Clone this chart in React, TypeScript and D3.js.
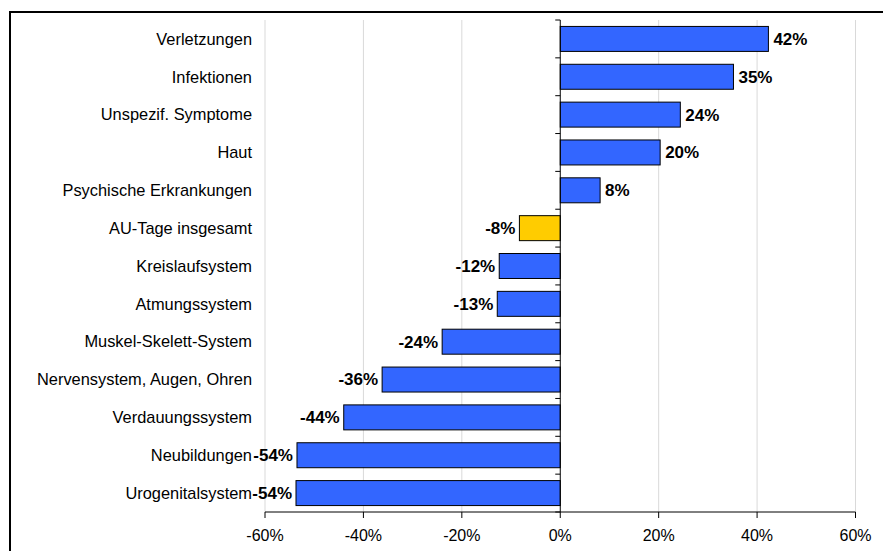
import React from "react";
import * as d3 from "d3";

const categories = [
  "Verletzungen",
  "Infektionen",
  "Unspezif. Symptome",
  "Haut",
  "Psychische Erkrankungen",
  "AU-Tage insgesamt",
  "Kreislaufsystem",
  "Atmungssystem",
  "Muskel-Skelett-System",
  "Nervensystem, Augen, Ohren",
  "Verdauungssystem",
  "Neubildungen",
  "Urogenitalsystem",
];
const values = [42.3, 35.2, 24.4, 20.3, 8.1, -8.3, -12.4, -12.8, -24, -36.2, -44, -53.5, -53.7];
const valueLabels = ["42%", "35%", "24%", "20%", "8%", "-8%", "-12%", "-13%", "-24%", "-36%", "-44%", "-54%", "-54%"];
const highlight = "AU-Tage insgesamt";
const xTicks = [-60, -40, -20, 0, 20, 40, 60];

export default function App() {
  const W = 883, H = 551;
  const left = 265, right = 855.5, top = 20, bottom = 512;
  const x = d3.scaleLinear().domain([-60, 60]).range([left, right]);
  const y = d3.scaleBand<string>().domain(categories).range([top, bottom]).paddingInner(0.34).paddingOuter(0.17);
  const step = y.step();
  const font = "'Liberation Sans', Arial, sans-serif";
  return (
    <svg width={W} height={H} style={{ position: "absolute", left: 0, top: 0 }}>
      <rect x={0} y={0} width={W} height={H} fill="#fff" />
      <rect x={10} y={12} width={W + 20} height={H + 20} fill="none" stroke="#000" strokeWidth={2} />
      {xTicks.filter((t) => t !== 0).map((t) => (
        <line key={"g" + t} x1={x(t)} x2={x(t)} y1={top} y2={bottom} stroke="#d9d9d9" strokeWidth={1} />
      ))}
      {categories.map((c, i) => {
        const v = values[i];
        const x0 = Math.min(x(0), x(v));
        const w = Math.abs(x(v) - x(0));
        const yy = y(c)!;
        const yc = yy + y.bandwidth() / 2;
        return (
          <g key={c}>
            <rect x={x0} y={yy} width={w} height={y.bandwidth()} fill={c === highlight ? "#FFCC00" : "#3366FF"} stroke="#000" strokeWidth={1} />
            <text x={252} y={yc} dy="0.35em" textAnchor="end" fontFamily={font} fontSize={16.4} fill="#000">{c}</text>
            <text
              x={v >= 0 ? x(v) + 5 : x(v) - 4}
              y={yc}
              dy="0.35em"
              textAnchor={v >= 0 ? "start" : "end"}
              fontFamily={font}
              fontSize={17}
              fontWeight="bold"
              fill="#000"
            >
              {valueLabels[i]}
            </text>
          </g>
        );
      })}
      {d3.range(categories.length + 1).map((i) => (
        <line key={"ct" + i} x1={x(0) - 5} x2={x(0)} y1={top + i * step} y2={top + i * step} stroke="#000" strokeWidth={1} />
      ))}
      <line x1={x(0)} x2={x(0)} y1={top} y2={bottom} stroke="#000" strokeWidth={1} />
      <line x1={left} x2={right} y1={bottom} y2={bottom} stroke="#000" strokeWidth={1} />
      {xTicks.map((t) => (
        <g key={"t" + t}>
          <line x1={x(t)} x2={x(t)} y1={bottom} y2={bottom + 6} stroke="#000" strokeWidth={1} />
          <text x={x(t)} y={541} textAnchor="middle" fontFamily={font} fontSize={16} fill="#000">{t + "%"}</text>
        </g>
      ))}
    </svg>
  );
}
